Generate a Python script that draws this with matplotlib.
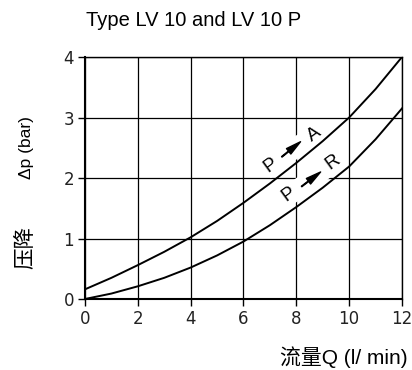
import matplotlib
matplotlib.use("Agg")
import matplotlib.pyplot as plt

# flow Q (l/min) and pressure drop (bar)
flow = [0, 1, 2, 3, 4, 5, 6, 7, 8, 9, 10, 11, 12]
dp_p_a = [0.16, 0.35, 0.56, 0.78, 1.02, 1.29, 1.59, 1.91, 2.25, 2.61, 3.00, 3.47, 4.00]
dp_p_r = [0.00, 0.09, 0.21, 0.35, 0.52, 0.72, 0.95, 1.22, 1.52, 1.84, 2.19, 2.64, 3.15]
xticks = [0, 2, 4, 6, 8, 10, 12]
yticks = [0, 1, 2, 3, 4]

plt.rcParams['font.family'] = ['Liberation Sans', 'Noto Sans CJK SC', 'DejaVu Sans']

fig = plt.figure(figsize=(4.12, 3.7), dpi=100)
ax = fig.add_axes([0.2063, 0.1919, 0.7694, 0.654])
ax.set_axisbelow(True)

ax.plot(flow, dp_p_a, color='black', lw=1.4, zorder=4)
ax.plot(flow, dp_p_r, color='black', lw=1.4, zorder=4)

ax.set_xlim(0, 12)
ax.set_ylim(0, 4)
ax.set_xticks(xticks)
ax.set_yticks(yticks)
ax.tick_params(direction='out', length=5, width=1, labelsize=12, colors='black',
               labelcolor='#222222', pad=3)
for lab in ax.get_xticklabels() + ax.get_yticklabels():
    lab.set_family('DejaVu Sans')
ax.grid(True, color='black', lw=0.9)
for s in ax.spines.values():
    s.set_linewidth(1.0)
ax.spines['left'].set_linewidth(1.5)
ax.spines['bottom'].set_linewidth(1.5)

# curve labels (white box breaks the grid like the original)
box = dict(facecolor='white', edgecolor='none', pad=1)
arrow = dict(width=0.5, headwidth=5, headlength=11, facecolor='black',
             edgecolor='black', shrink=0)
ax.text(7.86, 2.46, 'P        A', rotation=36, fontsize=13.5, ha='center', va='center',
        bbox=box, zorder=3, rotation_mode='anchor')
ax.annotate('', xy=(8.16, 2.6), xytext=(7.45, 2.35), arrowprops=arrow, zorder=5)
ax.text(8.6, 1.99, 'P        R', rotation=36, fontsize=13.5, ha='center', va='center',
        bbox=box, zorder=3, rotation_mode='anchor')
ax.annotate('', xy=(8.92, 2.1), xytext=(8.2, 1.86), arrowprops=arrow, zorder=5)

fig.text(0.208, 0.945, 'Type LV 10 and LV 10 P', fontsize=14.5, ha='left', va='center')
fig.text(0.065, 0.60, 'Δp (bar)', rotation=90, fontsize=12.5, ha='center', va='center')
fig.text(0.062, 0.33, '压降', rotation=90, fontsize=15.5, ha='center', va='center',
         family=['Noto Sans CJK SC', 'DejaVu Sans'])
fig.text(0.99, 0.035, '流量Q (l/ min)', fontsize=15, ha='right', va='center')

fig.savefig('out.png', dpi=100)
